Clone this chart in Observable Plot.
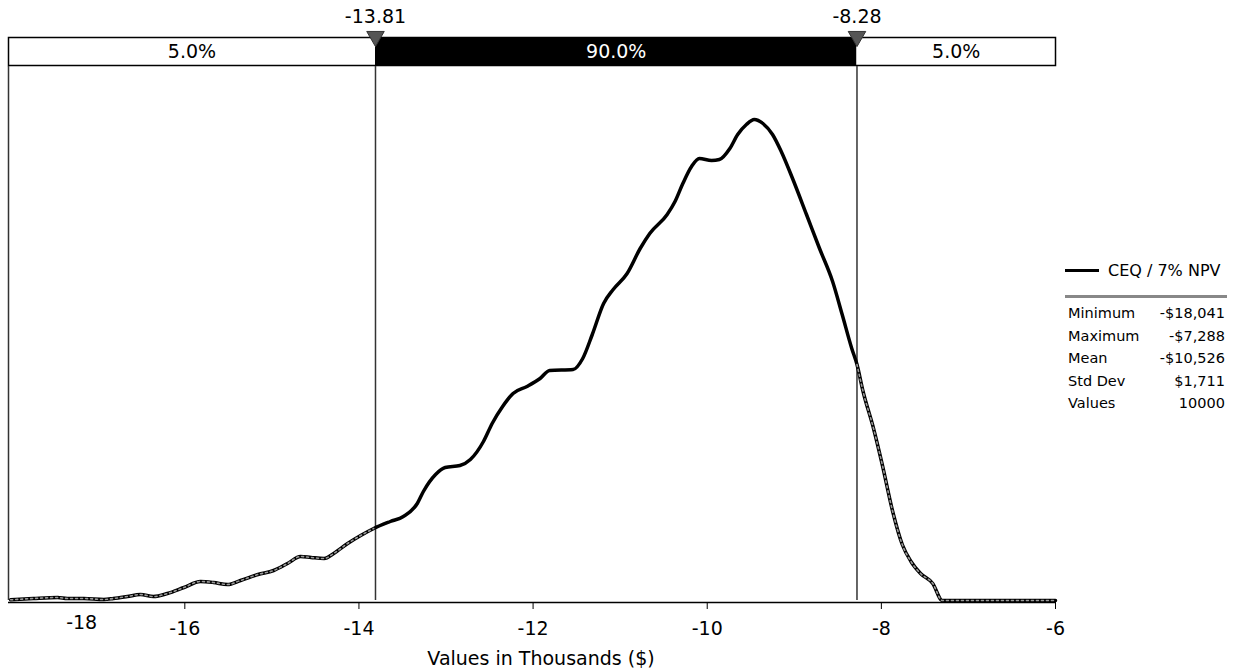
<!DOCTYPE html>
<html>
<head>
<meta charset="utf-8">
<script src="https://cdn.jsdelivr.net/npm/d3@7"></script>
<script src="https://cdn.jsdelivr.net/npm/@observablehq/plot@0.6"></script>
<style>
  html, body { margin: 0; padding: 0; background: #fff; }
  #wrap { position: relative; width: 1235px; height: 672px; font-family: "DejaVu Sans", sans-serif; }
  #band, #main { position: absolute; left: 0; }
  #band { top: 0; }
  #main { top: 66px; }
  #legend { position: absolute; left: 1065px; top: 258px; width: 162px; font-size: 14.5px; color: #000; }
  #legend .key { display: flex; align-items: center; height: 24px; font-size: 16px; }
  #legend .swatch { width: 34px; height: 3px; background: #000; margin-right: 9px; }
  #legend .sep { height: 3px; background: #888; margin: 13px 0 4px 0; }
  #legend table { border-collapse: collapse; width: 100%; }
  #legend td { padding: 0 0 0 3px; height: 22.5px; line-height: 22.5px; }
  #legend td.v { text-align: right; padding-right: 2px; }
</style>
</head>
<body>
<div id="wrap">
  <div id="band"></div>
  <div id="main"></div>
  <div id="legend"></div>
</div>
<script>
// ---- data ----
const seriesName = "CEQ / 7% NPV";
const xValues = [-18.00,-17.74,-17.46,-17.35,-17.16,-16.93,-16.82,-16.66,-16.51,-16.36,-16.20,-16.01,-15.82,-15.67,-15.51,-15.36,-15.16,-14.98,-14.82,-14.67,-14.55,-14.40,-14.29,-14.13,-13.98,-13.83,-13.64,-13.49,-13.33,-13.26,-13.12,-13.01,-12.84,-12.72,-12.57,-12.47,-12.35,-12.23,-12.07,-11.92,-11.81,-11.54,-11.43,-11.32,-11.19,-11.08,-10.92,-10.77,-10.66,-10.46,-10.37,-10.28,-10.18,-10.09,-9.95,-9.86,-9.74,-9.65,-9.55,-9.46,-9.36,-9.25,-9.15,-9.02,-8.86,-8.71,-8.56,-8.45,-8.34,-8.28,-8.21,-8.09,-7.99,-7.87,-7.76,-7.66,-7.55,-7.41,-7.30,-6.00];
const density = [0.07,0.2,0.3,0.2,0.2,0.1,0.2,0.4,0.6,0.4,0.7,1.3,1.9,1.8,1.6,2.0,2.6,3.0,3.7,4.4,4.3,4.2,4.7,5.7,6.5,7.2,7.9,8.4,9.7,10.9,12.6,13.3,13.5,14.1,15.9,17.7,19.4,20.7,21.4,22.2,23.0,23.1,24.2,26.6,29.7,31.1,32.7,35.2,36.7,38.6,39.9,41.7,43.4,44.2,44.0,44.1,45.2,46.6,47.6,48.1,47.7,46.6,44.9,42.2,38.6,35.2,31.9,28.6,25.2,23.6,20.9,17.2,13.6,8.9,5.6,3.9,2.7,1.7,0.0,0.0];
const xDomain = [-18.025, -6];
const xTicks = [-16, -14, -12, -10, -8, -6];
const firstTickLabel = -18;
const cutoffs = [-13.81, -8.28];
const bandPercents = ["5.0%", "90.0%", "5.0%"];
const statLabels = ["Minimum", "Maximum", "Mean", "Std Dev", "Values"];
const statValues = ["-$18,041", "-$7,288", "-$10,526", "$1,711", "10000"];

const curve = xValues.map((x, i) => ({x, d: density[i]}));
const leftTail = curve.filter(p => p.x <= cutoffs[0]);
const rightTail = curve.filter(p => p.x >= cutoffs[1]);
const bands = [
  {x1: xDomain[0], x2: cutoffs[0], label: bandPercents[0], fill: "white", text: "black"},
  {x1: cutoffs[0], x2: cutoffs[1], label: bandPercents[1], fill: "black", text: "white"},
  {x1: cutoffs[1], x2: xDomain[1], label: bandPercents[2], fill: "white", text: "black"}
];

const FONT = "DejaVu Sans, sans-serif";
const FS = 19;
const W = 1235, ML = 8, MR = 180;

// ---- top band ----
const band = Plot.plot({
  width: W, height: 66,
  marginLeft: ML, marginRight: MR, marginTop: 37, marginBottom: 1,
  style: {fontFamily: FONT, fontSize: FS + "px", overflow: "visible"},
  x: {domain: xDomain, axis: null},
  y: {domain: [0, 1], axis: null},
  marks: [
    Plot.rectY(bands, {x1: "x1", x2: "x2", y1: 0, y2: 1, fill: "fill", inset: 0}),
    Plot.frame({stroke: "black", strokeWidth: 1.5}),
    Plot.text(bands, {x: d => (d.x1 + d.x2) / 2, y: 0.5, text: "label", fill: "text", fontSize: FS}),
    Plot.text(cutoffs, {x: d => d, y: 1, text: d => d.toFixed(2), dy: -21, fontSize: FS, fill: "black"}),
    Plot.dot(cutoffs, {x: d => d, y: 1, symbol: "triangle", r: 6.5, rotate: 180, fill: "#555", stroke: "#333", strokeWidth: 1, dy: -1})
  ]
});
document.getElementById("band").appendChild(band);

// ---- main chart ----
const main = Plot.plot({
  width: W, height: 606,
  marginLeft: ML, marginRight: MR, marginTop: 0, marginBottom: 72,
  style: {fontFamily: FONT, fontSize: FS + "px", overflow: "visible"},
  x: {domain: xDomain},
  y: {domain: [0, 53.4], axis: null},
  marks: [
    Plot.ruleX([xDomain[0], ...cutoffs], {stroke: "#333", strokeWidth: 1.5}),
    Plot.ruleY([0], {stroke: "black", strokeWidth: 1.5, dy: 2}),
    Plot.axisX({ticks: xTicks, tickSize: 7, tickPadding: 12, tickFormat: d => String(d), label: null, fontSize: FS, dy: 2}),
    Plot.text([firstTickLabel], {x: d => d, text: d => String(d), frameAnchor: "bottom", dy: 28, dx: 71, fontSize: FS}),
    Plot.text(["Values in Thousands ($)"], {frameAnchor: "bottom", dy: 64, dx: 9, fontSize: FS}),
    Plot.line(curve, {x: "x", y: "d", stroke: "black", strokeWidth: 3.5, curve: "monotone-x"}),
    Plot.line(leftTail, {x: "x", y: "d", stroke: "#999", strokeWidth: 1.6, strokeDasharray: "2,3", curve: "monotone-x"}),
    Plot.line(rightTail, {x: "x", y: "d", stroke: "#999", strokeWidth: 1.6, strokeDasharray: "2,3", curve: "monotone-x"})
  ]
});
document.getElementById("main").appendChild(main);

// ---- legend ----
const legend = document.getElementById("legend");
legend.innerHTML = `<div class="key"><div class="swatch"></div><span>${seriesName}</span></div><div class="sep"></div>` +
  `<table>${statLabels.map((l, i) => `<tr><td>${l}</td><td class="v">${statValues[i]}</td></tr>`).join("")}</table>`;
</script>
</body>
</html>
